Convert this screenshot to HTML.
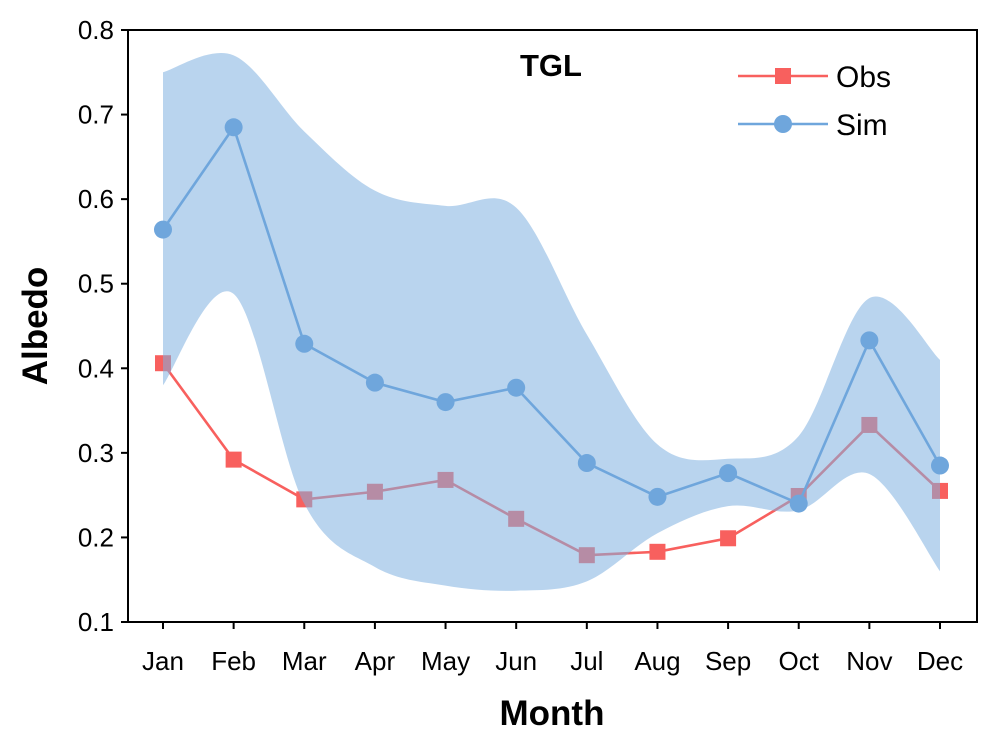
<!DOCTYPE html>
<html><head><meta charset="utf-8"><style>
body{margin:0;background:#fff;}
svg text{font-family:"Liberation Sans",Arial,sans-serif;}
</style></head><body>
<svg id="chart" width="996" height="743" xmlns="http://www.w3.org/2000/svg"></svg>
<script>
const months=["Jan","Feb","Mar","Apr","May","Jun","Jul","Aug","Sep","Oct","Nov","Dec"];
const obs=[0.406,0.292,0.245,0.254,0.268,0.222,0.179,0.183,0.199,0.249,0.333,0.255];
const sim=[0.564,0.685,0.429,0.383,0.360,0.377,0.288,0.248,0.276,0.240,0.433,0.285];
const bandUpper=[0.75,0.77,0.68,0.61,0.592,0.59,0.44,0.31,0.293,0.32,0.483,0.41];
const bandLower=[0.38,0.488,0.24,0.165,0.143,0.137,0.148,0.205,0.237,0.232,0.275,0.16];
const yTicks=[0.1,0.2,0.3,0.4,0.5,0.6,0.7,0.8];

const NS="http://www.w3.org/2000/svg";
const svg=document.getElementById('chart');
const L=128,R=977,T=30,B=622;
const x=i=>163+i*(940-163)/11;
const y=v=>B-(v-0.1)/(0.7)*(B-T);
function mk(tag,attrs,parent){const e=document.createElementNS(NS,tag);for(const k in attrs)e.setAttribute(k,attrs[k]);(parent||svg).appendChild(e);return e;}
function spline(pts){let d=`M${pts[0][0]},${pts[0][1]}`;for(let i=0;i<pts.length-1;i++){const p0=pts[Math.max(0,i-1)],p1=pts[i],p2=pts[i+1],p3=pts[Math.min(pts.length-1,i+2)];const c1=[p1[0]+(p2[0]-p0[0])/6,p1[1]+(p2[1]-p0[1])/6],c2=[p2[0]-(p3[0]-p1[0])/6,p2[1]-(p3[1]-p1[1])/6];d+=` C${c1[0]},${c1[1]} ${c2[0]},${c2[1]} ${p2[0]},${p2[1]}`;}return d;}

const op=mk('polyline',{points:obs.map((v,i)=>x(i)+','+y(v)).join(' '),fill:'none',stroke:'#f8605e','stroke-width':2.6});


obs.forEach((v,i)=>{const r=mk('rect',{x:x(i)-8,y:y(v)-8,width:16,height:16,fill:'#f8605e'});

});

const up=bandUpper.map((v,i)=>[x(i),y(v)]);
const lo=bandLower.map((v,i)=>[x(i),y(v)]).reverse();
let d=spline(up)+' L'+lo[0][0]+','+lo[0][1]+spline(lo).replace(/^M[^C]*/,' ')+' Z';
const band=mk('path',{d:d,fill:'#7fb0e0','fill-opacity':0.55,stroke:'none'});



const sp=mk('polyline',{points:sim.map((v,i)=>x(i)+','+y(v)).join(' '),fill:'none',stroke:'#6fa6dc','stroke-width':2.6});


sim.forEach((v,i)=>{const c=mk('circle',{cx:x(i),cy:y(v),r:9,fill:'#6fa6dc'});

});

const fr=mk('rect',{x:L,y:T,width:R-L,height:B-T,fill:'none',stroke:'#000','stroke-width':2});


yTicks.forEach(v=>{mk('line',{x1:L-7,x2:L,y1:y(v),y2:y(v),stroke:'#000','stroke-width':2});
const t=mk('text',{x:L-14,y:y(v)+9,'text-anchor':'end','font-size':26});t.textContent=v.toFixed(1);

});
months.forEach((m,i)=>{mk('line',{x1:x(i),x2:x(i),y1:B,y2:B+7,stroke:'#000','stroke-width':2});
const t=mk('text',{x:x(i),y:B+48,'text-anchor':'middle','font-size':26});t.textContent=m;

});

let t=mk('text',{x:552,y:725,'text-anchor':'middle','font-size':35,'font-weight':'bold'});t.textContent='Month';


t=mk('text',{x:0,y:0,'text-anchor':'middle','font-size':35,'font-weight':'bold',transform:'translate(47,326) rotate(-90)'});t.textContent='Albedo';


t=mk('text',{x:551,y:76,'text-anchor':'middle','font-size':31,'font-weight':'bold'});t.textContent='TGL';



const lg=mk('g',{});


mk('line',{x1:738,x2:828,y1:76,y2:76,stroke:'#f8605e','stroke-width':2.6},lg);
mk('rect',{x:775,y:68,width:16,height:16,fill:'#f8605e'},lg);
t=mk('text',{x:836,y:87,'font-size':30},lg);t.textContent='Obs';


mk('line',{x1:738,x2:828,y1:124,y2:124,stroke:'#6fa6dc','stroke-width':2.6},lg);
mk('circle',{cx:783,cy:124,r:9,fill:'#6fa6dc'},lg);
t=mk('text',{x:836,y:135,'font-size':30},lg);t.textContent='Sim';


</script>
</body></html>
